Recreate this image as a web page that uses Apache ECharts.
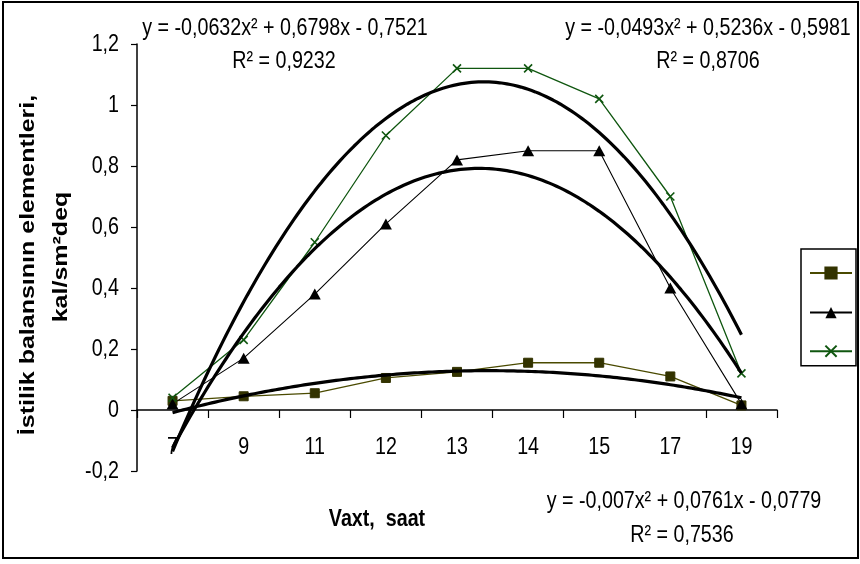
<!DOCTYPE html>
<html>
<head>
<meta charset="utf-8">
<style>
  html, body { margin: 0; padding: 0; background: #fff; }
  #chart { width: 860px; height: 564px; }
</style>
<script src="https://cdn.jsdelivr.net/npm/echarts@6/dist/echarts.min.js"></script>
</head>
<body>
<div id="chart"></div>
<script>
// Hours of observation (category axis)
const categories = ['7', '9', '11', '12', '13', '14', '15', '17', '19'];

// Measured heat-balance components, kal/sm²deq
const squareValues   = [0.03, 0.045, 0.055, 0.105, 0.125, 0.155, 0.155, 0.11, 0.015];
const triangleValues = [0.02, 0.17, 0.38, 0.61, 0.82, 0.85, 0.85, 0.40, 0.02];
const crossValues    = [0.04, 0.23, 0.55, 0.90, 1.12, 1.12, 1.02, 0.70, 0.12];

// Polynomial (order 2) trend coefficients [a, b, c] for y = a·x² + b·x + c, x = 1..9
const squareTrend   = [-0.007, 0.0761, -0.0779];
const triangleTrend = [-0.0493, 0.5236, -0.5981];
const crossTrend    = [-0.0632, 0.6798, -0.7521];

// Trend equation labels
const squareEq   = ['y = -0,007x² + 0,0761x - 0,0779', 'R² = 0,7536'];
const triangleEq = ['y = -0,0493x² + 0,5236x - 0,5981', 'R² = 0,8706'];
const crossEq    = ['y = -0,0632x² + 0,6798x - 0,7521', 'R² = 0,9232'];

// Value axis ticks and their labels
const yTicks = [-0.2, 0, 0.2, 0.4, 0.6, 0.8, 1, 1.2];
const yTickLabels = ['-0,2', '0', '0,2', '0,4', '0,6', '0,8', '1', '1,2'];

const FONT = "'Liberation Sans', Arial, sans-serif";
const NARROW_X = 0.82;   // condensed lettering

function trendPoints(coef) {
  const pts = [];
  for (let i = 0; i <= 160; i++) {
    const x = 1 + i * 0.05;
    pts.push([x, coef[0] * x * x + coef[1] * x + coef[2]]);
  }
  return pts;
}

const OLIVE = '#333300';
const GREEN = '#0f560f';
const crossPath = 'path://M0,0 L10,10 M10,0 L0,10';

const chart = echarts.init(document.getElementById('chart'), null, { renderer: 'canvas' });

function label(text, x, y, opts) {
  opts = opts || {};
  return {
    type: 'text', x: x, y: y, silent: true,
    rotation: opts.rotation || 0,
    scaleX: opts.rotation ? 1 : NARROW_X,
    scaleY: opts.rotation ? NARROW_X : 1,
    style: {
      text: text, fill: '#000',
      font: (opts.bold ? 'bold ' : '') + (opts.size || 24) + 'px ' + FONT,
      align: opts.align || 'center', verticalAlign: 'middle'
    }
  };
}

chart.setOption({
  animation: false,
  backgroundColor: '#fff',
  grid: { left: 137, right: 83, top: 44, bottom: 93, containLabel: false },
  xAxis: [{
    type: 'category',
    data: categories,
    boundaryGap: true,
    axisLine: { onZero: true, lineStyle: { color: '#000', width: 1.5 } },
    axisTick: { show: true, length: 8, inside: false, lineStyle: { color: '#000', width: 1.2 } },
    axisLabel: { show: false },
    splitLine: { show: false }
  }, {
    type: 'value', min: 0.5, max: 9.5, show: false
  }],
  yAxis: {
    type: 'value',
    min: yTicks[0], max: yTicks[yTicks.length - 1], interval: 0.2,
    axisLine: { show: true, onZero: false, lineStyle: { color: '#000', width: 1.5 } },
    axisTick: { show: true, length: 6, lineStyle: { color: '#000', width: 1.2 } },
    axisLabel: { show: false },
    splitLine: { show: false }
  },
  legend: {
    show: true,
    orient: 'vertical',
    left: 801, top: 249,
    padding: [17, 3, 8, 8],
    itemGap: 26,
    itemWidth: 42, itemHeight: 14,
    borderColor: '#000', borderWidth: 1.5,
    formatter: () => '',
    data: ['Seriya 1', 'Seriya 2', 'Seriya 3']
  },
  series: [
    {
      name: 'Seriya 1', type: 'line', data: squareValues,
      symbol: 'rect', symbolSize: 9,
      lineStyle: { color: '#4a4a00', width: 1.3 },
      itemStyle: { color: OLIVE, borderColor: OLIVE, borderWidth: 1 },
      z: 2
    },
    {
      name: 'Seriya 2', type: 'line', data: triangleValues,
      symbol: 'triangle', symbolSize: [12, 11],
      lineStyle: { color: '#000', width: 1.1 },
      itemStyle: { color: '#000' },
      z: 2
    },
    {
      name: 'Seriya 3', type: 'line', data: crossValues,
      symbol: crossPath, symbolSize: 8, symbolKeepAspect: true,
      lineStyle: { color: GREEN, width: 1.3 },
      itemStyle: { color: 'rgba(0,0,0,0)', borderColor: GREEN, borderWidth: 1.6 },
      z: 2
    },
    {
      type: 'line', xAxisIndex: 1, data: trendPoints(squareTrend),
      showSymbol: false, symbol: 'none', silent: true,
      lineStyle: { color: '#000', width: 3.2 }, z: 3
    },
    {
      type: 'line', xAxisIndex: 1, data: trendPoints(triangleTrend),
      showSymbol: false, symbol: 'none', silent: true,
      lineStyle: { color: '#000', width: 3.2 }, z: 3
    },
    {
      type: 'line', xAxisIndex: 1, data: trendPoints(crossTrend),
      showSymbol: false, symbol: 'none', silent: true,
      lineStyle: { color: '#000', width: 3.2 }, z: 3
    }
  ]
});

// Tick labels placed through the axes' own scales, in condensed lettering
const zeroY = chart.convertToPixel({ yAxisIndex: 0 }, 0);
const axisX = chart.convertToPixel({ xAxisIndex: 1 }, 0.5);
const graphics = [
  // outer frame
  { type: 'rect', shape: { x: 3, y: 2, width: 855, height: 556 },
    style: { fill: null, stroke: '#000', lineWidth: 2 }, silent: true, z: 10 }
];
categories.forEach((c, i) => {
  graphics.push(label(c, chart.convertToPixel({ xAxisIndex: 0 }, i), zeroY + 37));
});
yTicks.forEach((v, i) => {
  graphics.push(label(yTickLabels[i], axisX - 18, chart.convertToPixel({ yAxisIndex: 0 }, v), { align: 'right' }));
});

// trend equations
graphics.push(
  label(crossEq[0], 285, 28), label(crossEq[1], 284, 61),
  label(triangleEq[0], 708, 28), label(triangleEq[1], 708, 61),
  label(squareEq[0], 684, 501), label(squareEq[1], 682, 535)
);

// axis titles
graphics.push(
  label('Vaxt,  saat', 377, 519, { bold: true }),
  label('İstilik balansının elementleri,', 28, 265, { bold: true, size: 25, rotation: Math.PI / 2 }),
  label('kal/sm²deq', 61, 257, { bold: true, size: 25, rotation: Math.PI / 2 })
);

chart.setOption({ graphic: graphics });
</script>
</body>
</html>
